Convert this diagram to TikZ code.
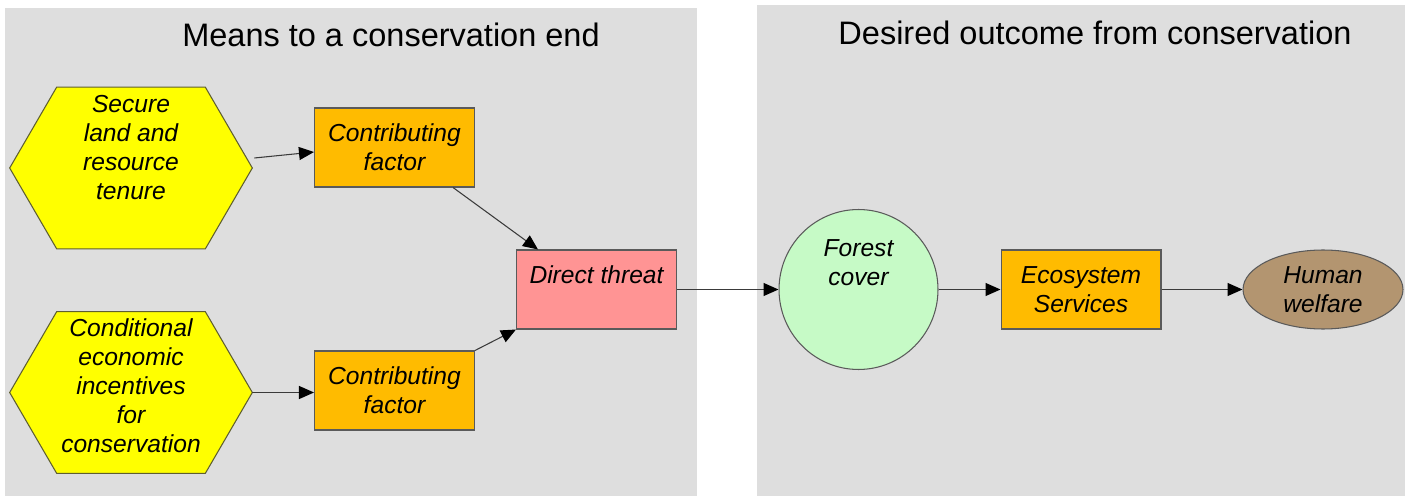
\documentclass[tikz,border=0pt]{standalone}
\usepackage{fontspec}
\setmainfont{Liberation Sans}
\usepackage{tikz}
\usetikzlibrary{positioning,arrows.meta,shapes.geometric}

\definecolor{panelgray}{HTML}{DEDEDE}
\definecolor{hexyellow}{HTML}{FFFF00}
\definecolor{hexline}{HTML}{5E5E30}
\definecolor{factororange}{HTML}{FFBB00}
\definecolor{threatpink}{HTML}{FF9494}
\definecolor{forestgreen}{HTML}{C6FAC6}
\definecolor{welfarebrown}{HTML}{B39570}
\definecolor{boxline}{HTML}{5A5A5A}
\definecolor{linkgray}{HTML}{3A3A3A}

\begin{document}
\begin{tikzpicture}[x=0.02cm,y=-0.02cm,>={Triangle[length=0.3cm,width=0.26cm,color=black]}]
  \tikzstyle{nodetext}=[font=\fontsize{14}{16.5}\selectfont\itshape,align=center,inner sep=0pt]
  \tikzstyle{box}=[rectangle,draw=boxline,line width=0.6pt,minimum width=3.2cm,minimum height=1.58cm,inner sep=0pt,nodetext]
  \tikzstyle{hexcore}=[minimum width=4.84cm,minimum height=3.22cm,inner sep=0pt]
  \tikzstyle{hexagon}=[fill=hexyellow,draw=hexline,line width=0.6pt]
  \tikzstyle{oval}=[ellipse,draw=boxline,line width=0.6pt,inner sep=0pt,nodetext]
  \tikzstyle{panel}=[fill=panelgray]
  \tikzstyle{paneltitle}=[font=\fontsize{18.5}{22}\selectfont,anchor=base,inner sep=0pt]
  \tikzstyle{link}=[->,draw=linkgray,line width=0.6pt]

  \useasboundingbox[fill=white] (0,0) rectangle (1405,496);

  % the two panels
  \fill[panel] (5,8) rectangle (697,496);
  \fill[panel] (757,5) rectangle (1405,496);
  \node[paneltitle] (means-title) at (391,47) {Means to a conservation end};
  \node[paneltitle] (outcome-title) at (1095,45) {Desired outcome from conservation};

  % strategies
  \node[hexcore] (secure) at (131,168) {};
  \node[hexcore] (incent) at (131,392.5) {};
  \filldraw[hexagon] (secure.west) -- ([xshift=0.94cm]secure.north west) -- ([xshift=-0.94cm]secure.north east)
    -- (secure.east) -- ([xshift=-0.94cm]secure.south east) -- ([xshift=0.94cm]secure.south west) -- cycle;
  \filldraw[hexagon] (incent.west) -- ([xshift=0.94cm]incent.north west) -- ([xshift=-0.94cm]incent.north east)
    -- (incent.east) -- ([xshift=-0.94cm]incent.south east) -- ([xshift=0.94cm]incent.south west) -- cycle;
  \node[nodetext] (secure-t) at (131,148) {Secure\\land and\\resource\\tenure};
  \node[nodetext] (incent-t) at (131,386) {Conditional\\economic\\incentives\\for\\conservation};

  % factors and threat
  \node[box,fill=factororange] (cfA) at (394.5,147.5) {Contributing\\factor};
  \node[box,fill=factororange] (cfB) at (394.5,390.5) {Contributing\\factor};
  \node[box,fill=threatpink] (threat) at (596.5,289.5) {};
  \node[nodetext] (threat-t) at (596.5,275) {Direct threat};

  % outcome
  \node[oval,fill=forestgreen,minimum width=3.18cm,minimum height=3.2cm] (forest) at (858.5,289.5) {};
  \node[nodetext] (forest-t) at (858.5,263) {Forest\\cover};
  \node[box,fill=factororange] (ecos) at (1081,289.5) {Ecosystem\\Services};
  \node[oval,fill=welfarebrown,minimum width=3.2cm,minimum height=1.58cm] (welfare) at (1323,289.5) {Human\\welfare};

  \draw[link] ([shift={(2,-10)}]secure.east) -- ([yshift=-0.09cm]cfA.west);
  \draw[link] (incent.east) -- (incent.east -| cfB.west);
  \draw[link] ([xshift=-0.44cm]cfA.south east) -- ([xshift=0.44cm]threat.north west);
  \draw[link] (cfB.north east) -- (threat.south west);
  \draw[link] (threat.east) -- (forest.west);
  \draw[link] (forest.east) -- (ecos.west);
  \draw[link] (ecos.east) -- (welfare.west);
\end{tikzpicture}
\end{document}
